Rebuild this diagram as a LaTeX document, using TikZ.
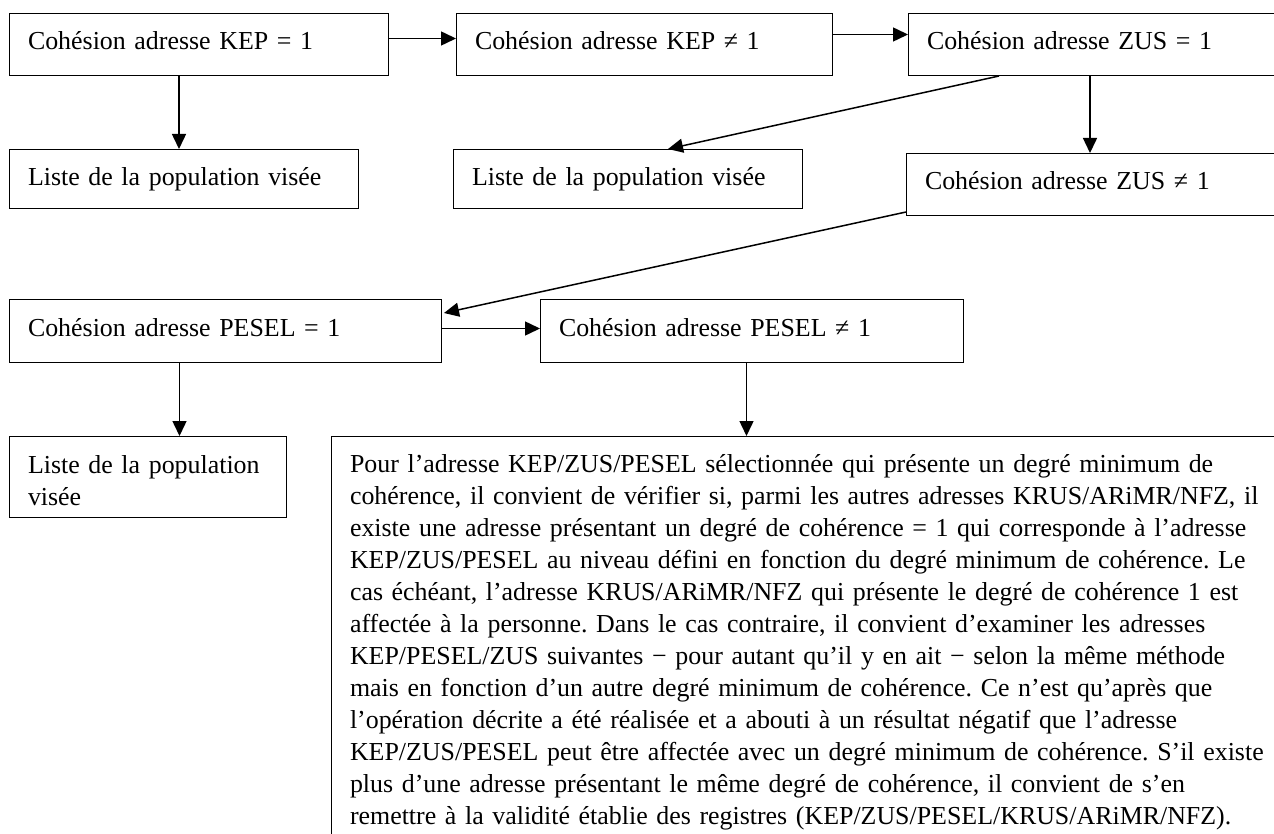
\documentclass[tikz,border=0pt]{standalone}
\usepackage{fontspec}
\setmainfont{Liberation Serif}
\usetikzlibrary{arrows.meta}
\frenchspacing
\begin{document}
\begin{tikzpicture}[x=1pt, y=-1pt,
    cbox/.style={draw, line width=1pt, anchor=north west, inner xsep=18.5pt, inner ysep=0pt,
        align=left, text height=36.5pt, font=\fontsize{25.9pt}{32pt}\selectfont},
    flow/.style={line width=1.5pt, -{Triangle[length=15pt, width=14pt]}}]
    \useasboundingbox (0,0) rectangle (1274,834);
    \clip (0,0) rectangle (1274,834);

    % First row: KEP and ZUS
    \node[cbox, text width=342pt, text depth=25.5pt] (kepeq) at (9,13) {Cohésion adresse KEP = 1};
    \node[cbox, text width=339pt, text depth=25.5pt] (kepne) at (456,13) {Cohésion adresse KEP ≠ 1};
    \node[cbox, text width=355pt, text depth=25.5pt] (zuseq) at (908,13) {Cohésion adresse ZUS = 1};

    % Second row: lists and ZUS
    \node[cbox, text width=312pt, text depth=22.5pt] (listA) at (9,149) {Liste de la population visée};
    \node[cbox, text width=312pt, text depth=22.5pt] (listB) at (453,149) {Liste de la population visée};
    \node[cbox, text width=357pt, text depth=25.5pt] (zusne) at (906,153) {Cohésion adresse ZUS ≠ 1};

    % Third row: PESEL
    \node[cbox, text width=395pt, text depth=26.5pt] (peseleq) at (9,299) {Cohésion adresse PESEL = 1};
    \node[cbox, text width=386pt, text depth=26.5pt] (peselne) at (540,299) {Cohésion adresse PESEL ≠ 1};

    % Last row: list and rule text
    \node[cbox, text width=240pt, text depth=44pt] (listC) at (9,436) {Liste de la population\\visée};
    \node[cbox, text width=952pt, text height=35.5pt, text depth=420pt] (rule) at (331,436) {Pour l’adresse KEP/ZUS/PESEL sélectionnée qui présente un degré minimum de\\
        cohérence, il convient de vérifier si, parmi les autres adresses KRUS/ARiMR/NFZ, il\\
        existe une adresse présentant un degré de cohérence = 1 qui corresponde à l’adresse\\
        KEP/ZUS/PESEL au niveau défini en fonction du degré minimum de cohérence. Le\\
        cas échéant, l’adresse KRUS/ARiMR/NFZ qui présente le degré de cohérence 1 est\\
        affectée à la personne. Dans le cas contraire, il convient d’examiner les adresses\\
        KEP/PESEL/ZUS suivantes − pour autant qu’il y en ait − selon la même méthode\\
        mais en fonction d’un autre degré minimum de cohérence. Ce n’est qu’après que\\
        l’opération décrite a été réalisée et a abouti à un résultat négatif que l’adresse\\
        KEP/ZUS/PESEL peut être affectée avec un degré minimum de cohérence. S’il existe\\
        plus d’une adresse présentant le même degré de cohérence, il convient de s’en\\
        remettre à la validité établie des registres (KEP/ZUS/PESEL/KRUS/ARiMR/NFZ).};

    % Connectors
    \draw[flow] ([yshift=6pt]kepeq.east) -- ([yshift=6pt]kepeq.east -| kepne.west);
    \draw[flow] ([yshift=10pt]kepne.east) -- ([yshift=10pt]kepne.east -| zuseq.west);
    \draw[flow] ([xshift=-20pt]kepeq.south) -- ([xshift=-20pt]kepeq.south |- listA.north);
    \draw[flow] ([xshift=91pt]zuseq.south west) -- ([xshift=40pt]listB.north);
    \draw[flow] ([xshift=182pt]zuseq.south west) -- ([xshift=182pt]zuseq.south west |- zusne.north);
    \draw[flow] ([yshift=4pt]zusne.south west) -- ([xshift=2pt, yshift=-14pt]peseleq.north east);
    \draw[flow] ([yshift=2.5pt]peseleq.east) -- ([yshift=2.5pt]peseleq.east -| peselne.west);
    \draw[flow] ([xshift=-46pt]peseleq.south) -- ([xshift=-46pt]peseleq.south |- listC.north);
    \draw[flow] ([xshift=-5.5pt]peselne.south) -- ([xshift=-5.5pt]peselne.south |- rule.north);
\end{tikzpicture}
\end{document}
